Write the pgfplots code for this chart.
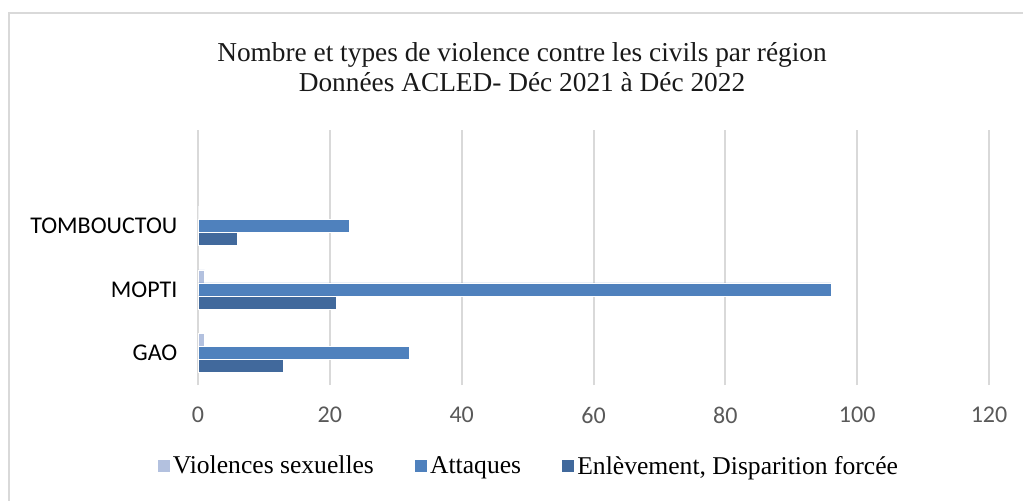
\documentclass[border=0pt]{standalone}
\usepackage{pgfplots}
\pgfplotsset{compat=1.18}
\usepackage{fontspec}
\setmainfont{Liberation Serif}
\newfontfamily\carl{Carlito}
\definecolor{cVS}{HTML}{B3C1DF}
\definecolor{cAtt}{HTML}{4F81BD}
\definecolor{cEnl}{HTML}{41699C}
\definecolor{gridc}{HTML}{D9D9D9}
\definecolor{tickc}{HTML}{595959}
\begin{document}
\begin{tikzpicture}
\path[use as bounding box] (0pt,0pt) rectangle (767.25pt,-375pt);
\draw[gridc, line width=1.5pt] (6.75pt,-376pt) -- (6.75pt,-10pt) -- (768pt,-10pt);
\node[font=\fontsize{20.5}{22.5}\selectfont, align=center, text=black!90] at (391.5pt,-50pt) {Nombre et types de violence contre les civils par région\\Données ACLED- Déc 2021 à Déc 2022};
\begin{axis}[
  at={(148.5pt,-288.75pt)}, anchor=south west,
  scale only axis, width=593.25pt, height=191.25pt,
  xmin=0, xmax=120, ymin=-0.5, ymax=3.5,
  xtick={0,20,...,120}, ytick={0,1,2},
  yticklabels={GAO,MOPTI,TOMBOUCTOU},
  xmajorgrids, grid style={gridc, line width=1.5pt},
  axis line style={draw=none}, major tick length=0pt,
  tick style={draw=none},
  xticklabel style={font=\carl\fontsize{18}{20}\selectfont, text=tickc, yshift=-13pt},
  yticklabel style={font=\carl\fontsize{18}{20}\selectfont, text=black, xshift=-12pt},
  /pgf/number format/assume math mode=true,
  xbar, bar width=0.205,
  legend style={draw=none, fill=none, at={(0.418,-0.318)}, anchor=center,
    legend columns=3, font=\fontsize{19.2}{22}\selectfont,
    /tikz/every even column/.append style={column sep=28pt}},
  legend image code/.code={\fill[#1] (0pt,-4.875pt) rectangle (9.75pt,4.875pt);},
  legend cell align=left,
]
\addplot[fill=cVS, draw=white, line width=0.4pt, bar shift=0.205] coordinates {(1,0) (1,1) (0,2)};
\addlegendentry{Violences sexuelles}
\addplot[fill=cAtt, draw=white, line width=0.4pt, bar shift=0] coordinates {(32,0) (96,1) (23,2)};
\addlegendentry{Attaques}
\addplot[fill=cEnl, draw=white, line width=0.4pt, bar shift=-0.205] coordinates {(13,0) (21,1) (6,2)};
\addlegendentry{Enlèvement, Disparition forcée}
\end{axis}
\end{tikzpicture}
\end{document}
